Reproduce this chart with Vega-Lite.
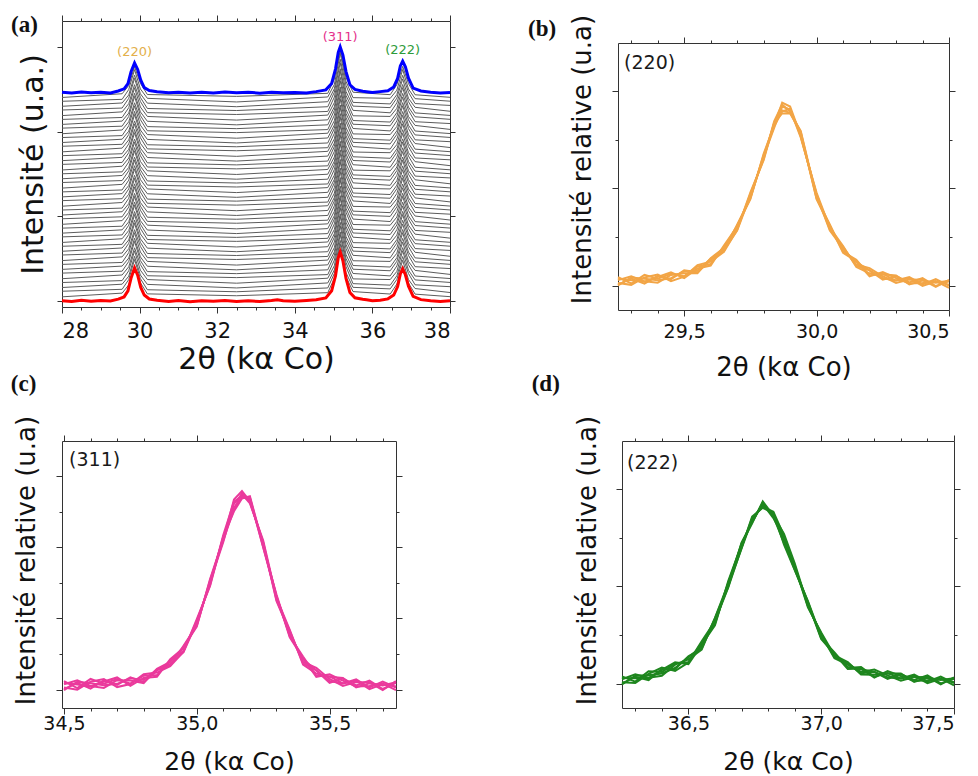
{
"$schema":"https://vega.github.io/schema/vega-lite/v6.json",
"background":"white",
"padding":{"left":10,"top":13,"right":0,"bottom":0},
"datasets":{
"a":[
{"s":1,"x":28,"y":0.049},{"s":1,"x":29.55,"y":0.093},{"s":1,"x":29.72,"y":0.19},{"s":1,"x":29.87,"y":0.414},{"s":1,"x":30.02,"y":0.216},{"s":1,"x":30.2,"y":0.084},{"s":1,"x":32.5,"y":0.062},{"s":1,"x":34.85,"y":0.098},{"s":1,"x":35.02,"y":0.269},{"s":1,"x":35.17,"y":0.602},{"s":1,"x":35.32,"y":0.287},{"s":1,"x":35.5,"y":0.111},{"s":1,"x":36.46,"y":0.082},{"s":1,"x":36.63,"y":0.2},{"s":1,"x":36.78,"y":0.416},{"s":1,"x":36.93,"y":0.213},{"s":1,"x":37.1,"y":0.081},{"s":1,"x":38,"y":0.051},
{"s":2,"x":28,"y":0.115},{"s":2,"x":29.55,"y":0.138},{"s":2,"x":29.72,"y":0.253},{"s":2,"x":29.87,"y":0.489},{"s":2,"x":30.02,"y":0.264},{"s":2,"x":30.2,"y":0.133},{"s":2,"x":32.5,"y":0.109},{"s":2,"x":34.85,"y":0.154},{"s":2,"x":35.02,"y":0.326},{"s":2,"x":35.17,"y":0.672},{"s":2,"x":35.32,"y":0.334},{"s":2,"x":35.5,"y":0.161},{"s":2,"x":36.46,"y":0.143},{"s":2,"x":36.63,"y":0.255},{"s":2,"x":36.78,"y":0.481},{"s":2,"x":36.93,"y":0.253},{"s":2,"x":37.1,"y":0.147},{"s":2,"x":38,"y":0.1},
{"s":3,"x":28,"y":0.159},{"s":3,"x":29.55,"y":0.198},{"s":3,"x":29.72,"y":0.293},{"s":3,"x":29.87,"y":0.527},{"s":3,"x":30.02,"y":0.307},{"s":3,"x":30.2,"y":0.196},{"s":3,"x":32.5,"y":0.154},{"s":3,"x":34.85,"y":0.213},{"s":3,"x":35.02,"y":0.367},{"s":3,"x":35.17,"y":0.715},{"s":3,"x":35.32,"y":0.405},{"s":3,"x":35.5,"y":0.205},{"s":3,"x":36.46,"y":0.187},{"s":3,"x":36.63,"y":0.298},{"s":3,"x":36.78,"y":0.525},{"s":3,"x":36.93,"y":0.324},{"s":3,"x":37.1,"y":0.191},{"s":3,"x":38,"y":0.169},
{"s":4,"x":28,"y":0.218},{"s":4,"x":29.55,"y":0.241},{"s":4,"x":29.72,"y":0.357},{"s":4,"x":29.87,"y":0.592},{"s":4,"x":30.02,"y":0.364},{"s":4,"x":30.2,"y":0.253},{"s":4,"x":32.5,"y":0.21},{"s":4,"x":34.85,"y":0.269},{"s":4,"x":35.02,"y":0.417},{"s":4,"x":35.17,"y":0.784},{"s":4,"x":35.32,"y":0.453},{"s":4,"x":35.5,"y":0.261},{"s":4,"x":36.46,"y":0.253},{"s":4,"x":36.63,"y":0.349},{"s":4,"x":36.78,"y":0.593},{"s":4,"x":36.93,"y":0.363},{"s":4,"x":37.1,"y":0.249},{"s":4,"x":38,"y":0.219},
{"s":5,"x":28,"y":0.263},{"s":5,"x":29.55,"y":0.307},{"s":5,"x":29.72,"y":0.404},{"s":5,"x":29.87,"y":0.628},{"s":5,"x":30.02,"y":0.43},{"s":5,"x":30.2,"y":0.298},{"s":5,"x":32.5,"y":0.276},{"s":5,"x":34.85,"y":0.312},{"s":5,"x":35.02,"y":0.483},{"s":5,"x":35.17,"y":0.816},{"s":5,"x":35.32,"y":0.501},{"s":5,"x":35.5,"y":0.325},{"s":5,"x":36.46,"y":0.296},{"s":5,"x":36.63,"y":0.414},{"s":5,"x":36.78,"y":0.63},{"s":5,"x":36.93,"y":0.427},{"s":5,"x":37.1,"y":0.295},{"s":5,"x":38,"y":0.265},
{"s":6,"x":28,"y":0.329},{"s":6,"x":29.55,"y":0.352},{"s":6,"x":29.72,"y":0.467},{"s":6,"x":29.87,"y":0.703},{"s":6,"x":30.02,"y":0.478},{"s":6,"x":30.2,"y":0.347},{"s":6,"x":32.5,"y":0.323},{"s":6,"x":34.85,"y":0.368},{"s":6,"x":35.02,"y":0.54},{"s":6,"x":35.17,"y":0.886},{"s":6,"x":35.32,"y":0.548},{"s":6,"x":35.5,"y":0.375},{"s":6,"x":36.46,"y":0.357},{"s":6,"x":36.63,"y":0.469},{"s":6,"x":36.78,"y":0.695},{"s":6,"x":36.93,"y":0.467},{"s":6,"x":37.1,"y":0.361},{"s":6,"x":38,"y":0.314},
{"s":7,"x":28,"y":0.373},{"s":7,"x":29.55,"y":0.412},{"s":7,"x":29.72,"y":0.507},{"s":7,"x":29.87,"y":0.741},{"s":7,"x":30.02,"y":0.521},{"s":7,"x":30.2,"y":0.41},{"s":7,"x":32.5,"y":0.368},{"s":7,"x":34.85,"y":0.427},{"s":7,"x":35.02,"y":0.581},{"s":7,"x":35.17,"y":0.929},{"s":7,"x":35.32,"y":0.619},{"s":7,"x":35.5,"y":0.419},{"s":7,"x":36.46,"y":0.401},{"s":7,"x":36.63,"y":0.512},{"s":7,"x":36.78,"y":0.739},{"s":7,"x":36.93,"y":0.538},{"s":7,"x":37.1,"y":0.405},{"s":7,"x":38,"y":0.383},
{"s":8,"x":28,"y":0.432},{"s":8,"x":29.55,"y":0.455},{"s":8,"x":29.72,"y":0.571},{"s":8,"x":29.87,"y":0.806},{"s":8,"x":30.02,"y":0.578},{"s":8,"x":30.2,"y":0.467},{"s":8,"x":32.5,"y":0.424},{"s":8,"x":34.85,"y":0.483},{"s":8,"x":35.02,"y":0.631},{"s":8,"x":35.17,"y":0.998},{"s":8,"x":35.32,"y":0.667},{"s":8,"x":35.5,"y":0.475},{"s":8,"x":36.46,"y":0.467},{"s":8,"x":36.63,"y":0.563},{"s":8,"x":36.78,"y":0.807},{"s":8,"x":36.93,"y":0.577},{"s":8,"x":37.1,"y":0.463},{"s":8,"x":38,"y":0.433},
{"s":9,"x":28,"y":0.477},{"s":9,"x":29.55,"y":0.521},{"s":9,"x":29.72,"y":0.618},{"s":9,"x":29.87,"y":0.842},{"s":9,"x":30.02,"y":0.644},{"s":9,"x":30.2,"y":0.512},{"s":9,"x":32.5,"y":0.49},{"s":9,"x":34.85,"y":0.526},{"s":9,"x":35.02,"y":0.697},{"s":9,"x":35.17,"y":1.03},{"s":9,"x":35.32,"y":0.715},{"s":9,"x":35.5,"y":0.539},{"s":9,"x":36.46,"y":0.51},{"s":9,"x":36.63,"y":0.628},{"s":9,"x":36.78,"y":0.844},{"s":9,"x":36.93,"y":0.641},{"s":9,"x":37.1,"y":0.509},{"s":9,"x":38,"y":0.479},
{"s":10,"x":28,"y":0.543},{"s":10,"x":29.55,"y":0.566},{"s":10,"x":29.72,"y":0.681},{"s":10,"x":29.87,"y":0.917},{"s":10,"x":30.02,"y":0.692},{"s":10,"x":30.2,"y":0.561},{"s":10,"x":32.5,"y":0.537},{"s":10,"x":34.85,"y":0.582},{"s":10,"x":35.02,"y":0.754},{"s":10,"x":35.17,"y":1.1},{"s":10,"x":35.32,"y":0.762},{"s":10,"x":35.5,"y":0.589},{"s":10,"x":36.46,"y":0.571},{"s":10,"x":36.63,"y":0.683},{"s":10,"x":36.78,"y":0.909},{"s":10,"x":36.93,"y":0.681},{"s":10,"x":37.1,"y":0.575},{"s":10,"x":38,"y":0.528},
{"s":11,"x":28,"y":0.587},{"s":11,"x":29.55,"y":0.626},{"s":11,"x":29.72,"y":0.721},{"s":11,"x":29.87,"y":0.955},{"s":11,"x":30.02,"y":0.735},{"s":11,"x":30.2,"y":0.624},{"s":11,"x":32.5,"y":0.582},{"s":11,"x":34.85,"y":0.641},{"s":11,"x":35.02,"y":0.795},{"s":11,"x":35.17,"y":1.143},{"s":11,"x":35.32,"y":0.833},{"s":11,"x":35.5,"y":0.633},{"s":11,"x":36.46,"y":0.615},{"s":11,"x":36.63,"y":0.726},{"s":11,"x":36.78,"y":0.953},{"s":11,"x":36.93,"y":0.752},{"s":11,"x":37.1,"y":0.619},{"s":11,"x":38,"y":0.597},
{"s":12,"x":28,"y":0.646},{"s":12,"x":29.55,"y":0.669},{"s":12,"x":29.72,"y":0.785},{"s":12,"x":29.87,"y":1.02},{"s":12,"x":30.02,"y":0.792},{"s":12,"x":30.2,"y":0.681},{"s":12,"x":32.5,"y":0.638},{"s":12,"x":34.85,"y":0.697},{"s":12,"x":35.02,"y":0.845},{"s":12,"x":35.17,"y":1.212},{"s":12,"x":35.32,"y":0.881},{"s":12,"x":35.5,"y":0.689},{"s":12,"x":36.46,"y":0.681},{"s":12,"x":36.63,"y":0.777},{"s":12,"x":36.78,"y":1.021},{"s":12,"x":36.93,"y":0.791},{"s":12,"x":37.1,"y":0.677},{"s":12,"x":38,"y":0.647},
{"s":13,"x":28,"y":0.691},{"s":13,"x":29.55,"y":0.735},{"s":13,"x":29.72,"y":0.832},{"s":13,"x":29.87,"y":1.056},{"s":13,"x":30.02,"y":0.858},{"s":13,"x":30.2,"y":0.726},{"s":13,"x":32.5,"y":0.704},{"s":13,"x":34.85,"y":0.74},{"s":13,"x":35.02,"y":0.911},{"s":13,"x":35.17,"y":1.244},{"s":13,"x":35.32,"y":0.929},{"s":13,"x":35.5,"y":0.753},{"s":13,"x":36.46,"y":0.724},{"s":13,"x":36.63,"y":0.842},{"s":13,"x":36.78,"y":1.058},{"s":13,"x":36.93,"y":0.855},{"s":13,"x":37.1,"y":0.723},{"s":13,"x":38,"y":0.693},
{"s":14,"x":28,"y":0.757},{"s":14,"x":29.55,"y":0.78},{"s":14,"x":29.72,"y":0.895},{"s":14,"x":29.87,"y":1.131},{"s":14,"x":30.02,"y":0.906},{"s":14,"x":30.2,"y":0.775},{"s":14,"x":32.5,"y":0.751},{"s":14,"x":34.85,"y":0.796},{"s":14,"x":35.02,"y":0.968},{"s":14,"x":35.17,"y":1.314},{"s":14,"x":35.32,"y":0.976},{"s":14,"x":35.5,"y":0.803},{"s":14,"x":36.46,"y":0.785},{"s":14,"x":36.63,"y":0.897},{"s":14,"x":36.78,"y":1.123},{"s":14,"x":36.93,"y":0.895},{"s":14,"x":37.1,"y":0.789},{"s":14,"x":38,"y":0.742},
{"s":15,"x":28,"y":0.801},{"s":15,"x":29.55,"y":0.84},{"s":15,"x":29.72,"y":0.935},{"s":15,"x":29.87,"y":1.169},{"s":15,"x":30.02,"y":0.949},{"s":15,"x":30.2,"y":0.838},{"s":15,"x":32.5,"y":0.796},{"s":15,"x":34.85,"y":0.855},{"s":15,"x":35.02,"y":1.009},{"s":15,"x":35.17,"y":1.357},{"s":15,"x":35.32,"y":1.047},{"s":15,"x":35.5,"y":0.847},{"s":15,"x":36.46,"y":0.829},{"s":15,"x":36.63,"y":0.94},{"s":15,"x":36.78,"y":1.167},{"s":15,"x":36.93,"y":0.966},{"s":15,"x":37.1,"y":0.833},{"s":15,"x":38,"y":0.811},
{"s":16,"x":28,"y":0.86},{"s":16,"x":29.55,"y":0.883},{"s":16,"x":29.72,"y":0.999},{"s":16,"x":29.87,"y":1.234},{"s":16,"x":30.02,"y":1.006},{"s":16,"x":30.2,"y":0.895},{"s":16,"x":32.5,"y":0.852},{"s":16,"x":34.85,"y":0.911},{"s":16,"x":35.02,"y":1.059},{"s":16,"x":35.17,"y":1.426},{"s":16,"x":35.32,"y":1.095},{"s":16,"x":35.5,"y":0.903},{"s":16,"x":36.46,"y":0.895},{"s":16,"x":36.63,"y":0.991},{"s":16,"x":36.78,"y":1.235},{"s":16,"x":36.93,"y":1.005},{"s":16,"x":37.1,"y":0.891},{"s":16,"x":38,"y":0.861},
{"s":17,"x":28,"y":0.905},{"s":17,"x":29.55,"y":0.949},{"s":17,"x":29.72,"y":1.046},{"s":17,"x":29.87,"y":1.27},{"s":17,"x":30.02,"y":1.072},{"s":17,"x":30.2,"y":0.94},{"s":17,"x":32.5,"y":0.918},{"s":17,"x":34.85,"y":0.954},{"s":17,"x":35.02,"y":1.125},{"s":17,"x":35.17,"y":1.458},{"s":17,"x":35.32,"y":1.143},{"s":17,"x":35.5,"y":0.967},{"s":17,"x":36.46,"y":0.938},{"s":17,"x":36.63,"y":1.056},{"s":17,"x":36.78,"y":1.272},{"s":17,"x":36.93,"y":1.069},{"s":17,"x":37.1,"y":0.937},{"s":17,"x":38,"y":0.907},
{"s":18,"x":28,"y":0.971},{"s":18,"x":29.55,"y":0.994},{"s":18,"x":29.72,"y":1.109},{"s":18,"x":29.87,"y":1.345},{"s":18,"x":30.02,"y":1.12},{"s":18,"x":30.2,"y":0.989},{"s":18,"x":32.5,"y":0.965},{"s":18,"x":34.85,"y":1.01},{"s":18,"x":35.02,"y":1.182},{"s":18,"x":35.17,"y":1.528},{"s":18,"x":35.32,"y":1.19},{"s":18,"x":35.5,"y":1.017},{"s":18,"x":36.46,"y":0.999},{"s":18,"x":36.63,"y":1.111},{"s":18,"x":36.78,"y":1.337},{"s":18,"x":36.93,"y":1.109},{"s":18,"x":37.1,"y":1.003},{"s":18,"x":38,"y":0.956},
{"s":19,"x":28,"y":1.015},{"s":19,"x":29.55,"y":1.054},{"s":19,"x":29.72,"y":1.149},{"s":19,"x":29.87,"y":1.383},{"s":19,"x":30.02,"y":1.163},{"s":19,"x":30.2,"y":1.052},{"s":19,"x":32.5,"y":1.01},{"s":19,"x":34.85,"y":1.069},{"s":19,"x":35.02,"y":1.223},{"s":19,"x":35.17,"y":1.571},{"s":19,"x":35.32,"y":1.261},{"s":19,"x":35.5,"y":1.061},{"s":19,"x":36.46,"y":1.043},{"s":19,"x":36.63,"y":1.154},{"s":19,"x":36.78,"y":1.381},{"s":19,"x":36.93,"y":1.18},{"s":19,"x":37.1,"y":1.047},{"s":19,"x":38,"y":1.025},
{"s":20,"x":28,"y":1.074},{"s":20,"x":29.55,"y":1.097},{"s":20,"x":29.72,"y":1.213},{"s":20,"x":29.87,"y":1.448},{"s":20,"x":30.02,"y":1.22},{"s":20,"x":30.2,"y":1.109},{"s":20,"x":32.5,"y":1.066},{"s":20,"x":34.85,"y":1.125},{"s":20,"x":35.02,"y":1.273},{"s":20,"x":35.17,"y":1.64},{"s":20,"x":35.32,"y":1.309},{"s":20,"x":35.5,"y":1.117},{"s":20,"x":36.46,"y":1.109},{"s":20,"x":36.63,"y":1.205},{"s":20,"x":36.78,"y":1.449},{"s":20,"x":36.93,"y":1.219},{"s":20,"x":37.1,"y":1.105},{"s":20,"x":38,"y":1.075},
{"s":21,"x":28,"y":1.119},{"s":21,"x":29.55,"y":1.163},{"s":21,"x":29.72,"y":1.26},{"s":21,"x":29.87,"y":1.484},{"s":21,"x":30.02,"y":1.286},{"s":21,"x":30.2,"y":1.154},{"s":21,"x":32.5,"y":1.132},{"s":21,"x":34.85,"y":1.168},{"s":21,"x":35.02,"y":1.339},{"s":21,"x":35.17,"y":1.672},{"s":21,"x":35.32,"y":1.357},{"s":21,"x":35.5,"y":1.181},{"s":21,"x":36.46,"y":1.152},{"s":21,"x":36.63,"y":1.27},{"s":21,"x":36.78,"y":1.486},{"s":21,"x":36.93,"y":1.283},{"s":21,"x":37.1,"y":1.151},{"s":21,"x":38,"y":1.121},
{"s":22,"x":28,"y":1.185},{"s":22,"x":29.55,"y":1.208},{"s":22,"x":29.72,"y":1.323},{"s":22,"x":29.87,"y":1.559},{"s":22,"x":30.02,"y":1.334},{"s":22,"x":30.2,"y":1.203},{"s":22,"x":32.5,"y":1.179},{"s":22,"x":34.85,"y":1.224},{"s":22,"x":35.02,"y":1.396},{"s":22,"x":35.17,"y":1.742},{"s":22,"x":35.32,"y":1.404},{"s":22,"x":35.5,"y":1.231},{"s":22,"x":36.46,"y":1.213},{"s":22,"x":36.63,"y":1.325},{"s":22,"x":36.78,"y":1.551},{"s":22,"x":36.93,"y":1.323},{"s":22,"x":37.1,"y":1.217},{"s":22,"x":38,"y":1.17},
{"s":23,"x":28,"y":1.229},{"s":23,"x":29.55,"y":1.268},{"s":23,"x":29.72,"y":1.363},{"s":23,"x":29.87,"y":1.597},{"s":23,"x":30.02,"y":1.377},{"s":23,"x":30.2,"y":1.266},{"s":23,"x":32.5,"y":1.224},{"s":23,"x":34.85,"y":1.283},{"s":23,"x":35.02,"y":1.437},{"s":23,"x":35.17,"y":1.785},{"s":23,"x":35.32,"y":1.475},{"s":23,"x":35.5,"y":1.275},{"s":23,"x":36.46,"y":1.257},{"s":23,"x":36.63,"y":1.368},{"s":23,"x":36.78,"y":1.595},{"s":23,"x":36.93,"y":1.394},{"s":23,"x":37.1,"y":1.261},{"s":23,"x":38,"y":1.239},
{"s":24,"x":28,"y":1.288},{"s":24,"x":29.55,"y":1.311},{"s":24,"x":29.72,"y":1.427},{"s":24,"x":29.87,"y":1.662},{"s":24,"x":30.02,"y":1.434},{"s":24,"x":30.2,"y":1.323},{"s":24,"x":32.5,"y":1.28},{"s":24,"x":34.85,"y":1.339},{"s":24,"x":35.02,"y":1.487},{"s":24,"x":35.17,"y":1.854},{"s":24,"x":35.32,"y":1.523},{"s":24,"x":35.5,"y":1.331},{"s":24,"x":36.46,"y":1.323},{"s":24,"x":36.63,"y":1.419},{"s":24,"x":36.78,"y":1.663},{"s":24,"x":36.93,"y":1.433},{"s":24,"x":37.1,"y":1.319},{"s":24,"x":38,"y":1.289},
{"s":25,"x":28,"y":1.333},{"s":25,"x":29.55,"y":1.377},{"s":25,"x":29.72,"y":1.474},{"s":25,"x":29.87,"y":1.698},{"s":25,"x":30.02,"y":1.5},{"s":25,"x":30.2,"y":1.368},{"s":25,"x":32.5,"y":1.346},{"s":25,"x":34.85,"y":1.382},{"s":25,"x":35.02,"y":1.553},{"s":25,"x":35.17,"y":1.886},{"s":25,"x":35.32,"y":1.571},{"s":25,"x":35.5,"y":1.395},{"s":25,"x":36.46,"y":1.366},{"s":25,"x":36.63,"y":1.484},{"s":25,"x":36.78,"y":1.7},{"s":25,"x":36.93,"y":1.497},{"s":25,"x":37.1,"y":1.365},{"s":25,"x":38,"y":1.335},
{"s":26,"x":28,"y":1.399},{"s":26,"x":29.55,"y":1.422},{"s":26,"x":29.72,"y":1.537},{"s":26,"x":29.87,"y":1.773},{"s":26,"x":30.02,"y":1.548},{"s":26,"x":30.2,"y":1.417},{"s":26,"x":32.5,"y":1.393},{"s":26,"x":34.85,"y":1.438},{"s":26,"x":35.02,"y":1.61},{"s":26,"x":35.17,"y":1.956},{"s":26,"x":35.32,"y":1.618},{"s":26,"x":35.5,"y":1.445},{"s":26,"x":36.46,"y":1.427},{"s":26,"x":36.63,"y":1.539},{"s":26,"x":36.78,"y":1.765},{"s":26,"x":36.93,"y":1.537},{"s":26,"x":37.1,"y":1.431},{"s":26,"x":38,"y":1.384},
{"s":27,"x":28,"y":1.443},{"s":27,"x":29.55,"y":1.482},{"s":27,"x":29.72,"y":1.577},{"s":27,"x":29.87,"y":1.811},{"s":27,"x":30.02,"y":1.591},{"s":27,"x":30.2,"y":1.48},{"s":27,"x":32.5,"y":1.438},{"s":27,"x":34.85,"y":1.497},{"s":27,"x":35.02,"y":1.651},{"s":27,"x":35.17,"y":1.999},{"s":27,"x":35.32,"y":1.689},{"s":27,"x":35.5,"y":1.489},{"s":27,"x":36.46,"y":1.471},{"s":27,"x":36.63,"y":1.582},{"s":27,"x":36.78,"y":1.809},{"s":27,"x":36.93,"y":1.608},{"s":27,"x":37.1,"y":1.475},{"s":27,"x":38,"y":1.453},
{"s":28,"x":28,"y":1.502},{"s":28,"x":29.55,"y":1.525},{"s":28,"x":29.72,"y":1.641},{"s":28,"x":29.87,"y":1.876},{"s":28,"x":30.02,"y":1.648},{"s":28,"x":30.2,"y":1.537},{"s":28,"x":32.5,"y":1.494},{"s":28,"x":34.85,"y":1.553},{"s":28,"x":35.02,"y":1.701},{"s":28,"x":35.17,"y":2.068},{"s":28,"x":35.32,"y":1.737},{"s":28,"x":35.5,"y":1.545},{"s":28,"x":36.46,"y":1.537},{"s":28,"x":36.63,"y":1.633},{"s":28,"x":36.78,"y":1.877},{"s":28,"x":36.93,"y":1.647},{"s":28,"x":37.1,"y":1.533},{"s":28,"x":38,"y":1.503},
{"s":29,"x":28,"y":1.547},{"s":29,"x":29.55,"y":1.591},{"s":29,"x":29.72,"y":1.688},{"s":29,"x":29.87,"y":1.912},{"s":29,"x":30.02,"y":1.714},{"s":29,"x":30.2,"y":1.582},{"s":29,"x":32.5,"y":1.56},{"s":29,"x":34.85,"y":1.596},{"s":29,"x":35.02,"y":1.767},{"s":29,"x":35.17,"y":2.1},{"s":29,"x":35.32,"y":1.785},{"s":29,"x":35.5,"y":1.609},{"s":29,"x":36.46,"y":1.58},{"s":29,"x":36.63,"y":1.698},{"s":29,"x":36.78,"y":1.914},{"s":29,"x":36.93,"y":1.711},{"s":29,"x":37.1,"y":1.579},{"s":29,"x":38,"y":1.549},
{"s":30,"x":28,"y":1.613},{"s":30,"x":29.55,"y":1.636},{"s":30,"x":29.72,"y":1.751},{"s":30,"x":29.87,"y":1.987},{"s":30,"x":30.02,"y":1.762},{"s":30,"x":30.2,"y":1.631},{"s":30,"x":32.5,"y":1.607},{"s":30,"x":34.85,"y":1.652},{"s":30,"x":35.02,"y":1.824},{"s":30,"x":35.17,"y":2.17},{"s":30,"x":35.32,"y":1.832},{"s":30,"x":35.5,"y":1.659},{"s":30,"x":36.46,"y":1.641},{"s":30,"x":36.63,"y":1.753},{"s":30,"x":36.78,"y":1.979},{"s":30,"x":36.93,"y":1.751},{"s":30,"x":37.1,"y":1.645},{"s":30,"x":38,"y":1.598},
{"s":31,"x":28,"y":1.657},{"s":31,"x":29.55,"y":1.696},{"s":31,"x":29.72,"y":1.791},{"s":31,"x":29.87,"y":2.025},{"s":31,"x":30.02,"y":1.805},{"s":31,"x":30.2,"y":1.694},{"s":31,"x":32.5,"y":1.652},{"s":31,"x":34.85,"y":1.711},{"s":31,"x":35.02,"y":1.865},{"s":31,"x":35.17,"y":2.213},{"s":31,"x":35.32,"y":1.903},{"s":31,"x":35.5,"y":1.703},{"s":31,"x":36.46,"y":1.685},{"s":31,"x":36.63,"y":1.796},{"s":31,"x":36.78,"y":2.023},{"s":31,"x":36.93,"y":1.822},{"s":31,"x":37.1,"y":1.689},{"s":31,"x":38,"y":1.667},
{"s":32,"x":28,"y":1.716},{"s":32,"x":29.55,"y":1.739},{"s":32,"x":29.72,"y":1.855},{"s":32,"x":29.87,"y":2.09},{"s":32,"x":30.02,"y":1.862},{"s":32,"x":30.2,"y":1.751},{"s":32,"x":32.5,"y":1.708},{"s":32,"x":34.85,"y":1.767},{"s":32,"x":35.02,"y":1.915},{"s":32,"x":35.17,"y":2.282},{"s":32,"x":35.32,"y":1.951},{"s":32,"x":35.5,"y":1.759},{"s":32,"x":36.46,"y":1.751},{"s":32,"x":36.63,"y":1.847},{"s":32,"x":36.78,"y":2.091},{"s":32,"x":36.93,"y":1.861},{"s":32,"x":37.1,"y":1.747},{"s":32,"x":38,"y":1.717},
{"s":33,"x":28,"y":1.761},{"s":33,"x":29.55,"y":1.805},{"s":33,"x":29.72,"y":1.902},{"s":33,"x":29.87,"y":2.126},{"s":33,"x":30.02,"y":1.928},{"s":33,"x":30.2,"y":1.796},{"s":33,"x":32.5,"y":1.774},{"s":33,"x":34.85,"y":1.81},{"s":33,"x":35.02,"y":1.981},{"s":33,"x":35.17,"y":2.314},{"s":33,"x":35.32,"y":1.999},{"s":33,"x":35.5,"y":1.823},{"s":33,"x":36.46,"y":1.794},{"s":33,"x":36.63,"y":1.912},{"s":33,"x":36.78,"y":2.128},{"s":33,"x":36.93,"y":1.925},{"s":33,"x":37.1,"y":1.793},{"s":33,"x":38,"y":1.763},
{"s":34,"x":28,"y":1.827},{"s":34,"x":29.55,"y":1.85},{"s":34,"x":29.72,"y":1.965},{"s":34,"x":29.87,"y":2.201},{"s":34,"x":30.02,"y":1.976},{"s":34,"x":30.2,"y":1.845},{"s":34,"x":32.5,"y":1.821},{"s":34,"x":34.85,"y":1.866},{"s":34,"x":35.02,"y":2.038},{"s":34,"x":35.17,"y":2.384},{"s":34,"x":35.32,"y":2.046},{"s":34,"x":35.5,"y":1.873},{"s":34,"x":36.46,"y":1.855},{"s":34,"x":36.63,"y":1.967},{"s":34,"x":36.78,"y":2.193},{"s":34,"x":36.93,"y":1.965},{"s":34,"x":37.1,"y":1.859},{"s":34,"x":38,"y":1.812},
{"s":35,"x":28,"y":1.871},{"s":35,"x":29.55,"y":1.91},{"s":35,"x":29.72,"y":2.005},{"s":35,"x":29.87,"y":2.239},{"s":35,"x":30.02,"y":2.019},{"s":35,"x":30.2,"y":1.908},{"s":35,"x":32.5,"y":1.866},{"s":35,"x":34.85,"y":1.925},{"s":35,"x":35.02,"y":2.079},{"s":35,"x":35.17,"y":2.427},{"s":35,"x":35.32,"y":2.117},{"s":35,"x":35.5,"y":1.917},{"s":35,"x":36.46,"y":1.899},{"s":35,"x":36.63,"y":2.01},{"s":35,"x":36.78,"y":2.237},{"s":35,"x":36.93,"y":2.036},{"s":35,"x":37.1,"y":1.903},{"s":35,"x":38,"y":1.881},
{"s":36,"x":28,"y":1.93},{"s":36,"x":29.55,"y":1.953},{"s":36,"x":29.72,"y":2.069},{"s":36,"x":29.87,"y":2.304},{"s":36,"x":30.02,"y":2.076},{"s":36,"x":30.2,"y":1.965},{"s":36,"x":32.5,"y":1.922},{"s":36,"x":34.85,"y":1.981},{"s":36,"x":35.02,"y":2.129},{"s":36,"x":35.17,"y":2.496},{"s":36,"x":35.32,"y":2.165},{"s":36,"x":35.5,"y":1.973},{"s":36,"x":36.46,"y":1.965},{"s":36,"x":36.63,"y":2.061},{"s":36,"x":36.78,"y":2.305},{"s":36,"x":36.93,"y":2.075},{"s":36,"x":37.1,"y":1.961},{"s":36,"x":38,"y":1.931},
{"s":37,"x":28,"y":1.975},{"s":37,"x":29.55,"y":2.019},{"s":37,"x":29.72,"y":2.116},{"s":37,"x":29.87,"y":2.34},{"s":37,"x":30.02,"y":2.142},{"s":37,"x":30.2,"y":2.01},{"s":37,"x":32.5,"y":1.988},{"s":37,"x":34.85,"y":2.024},{"s":37,"x":35.02,"y":2.195},{"s":37,"x":35.17,"y":2.528},{"s":37,"x":35.32,"y":2.213},{"s":37,"x":35.5,"y":2.037},{"s":37,"x":36.46,"y":2.008},{"s":37,"x":36.63,"y":2.126},{"s":37,"x":36.78,"y":2.342},{"s":37,"x":36.93,"y":2.139},{"s":37,"x":37.1,"y":2.007},{"s":37,"x":38,"y":1.977},
{"s":38,"x":28,"y":2.041},{"s":38,"x":29.55,"y":2.064},{"s":38,"x":29.72,"y":2.179},{"s":38,"x":29.87,"y":2.415},{"s":38,"x":30.02,"y":2.19},{"s":38,"x":30.2,"y":2.059},{"s":38,"x":32.5,"y":2.035},{"s":38,"x":34.85,"y":2.08},{"s":38,"x":35.02,"y":2.252},{"s":38,"x":35.17,"y":2.598},{"s":38,"x":35.32,"y":2.26},{"s":38,"x":35.5,"y":2.087},{"s":38,"x":36.46,"y":2.069},{"s":38,"x":36.63,"y":2.181},{"s":38,"x":36.78,"y":2.407},{"s":38,"x":36.93,"y":2.179},{"s":38,"x":37.1,"y":2.073},{"s":38,"x":38,"y":2.026},
{"s":39,"x":28,"y":2.085},{"s":39,"x":29.55,"y":2.124},{"s":39,"x":29.72,"y":2.219},{"s":39,"x":29.87,"y":2.453},{"s":39,"x":30.02,"y":2.233},{"s":39,"x":30.2,"y":2.122},{"s":39,"x":32.5,"y":2.08},{"s":39,"x":34.85,"y":2.139},{"s":39,"x":35.02,"y":2.293},{"s":39,"x":35.17,"y":2.641},{"s":39,"x":35.32,"y":2.331},{"s":39,"x":35.5,"y":2.131},{"s":39,"x":36.46,"y":2.113},{"s":39,"x":36.63,"y":2.224},{"s":39,"x":36.78,"y":2.451},{"s":39,"x":36.93,"y":2.25},{"s":39,"x":37.1,"y":2.117},{"s":39,"x":38,"y":2.095},
{"s":40,"x":28,"y":2.144},{"s":40,"x":29.55,"y":2.167},{"s":40,"x":29.72,"y":2.283},{"s":40,"x":29.87,"y":2.518},{"s":40,"x":30.02,"y":2.29},{"s":40,"x":30.2,"y":2.179},{"s":40,"x":32.5,"y":2.136},{"s":40,"x":34.85,"y":2.195},{"s":40,"x":35.02,"y":2.343},{"s":40,"x":35.17,"y":2.71},{"s":40,"x":35.32,"y":2.379},{"s":40,"x":35.5,"y":2.187},{"s":40,"x":36.46,"y":2.179},{"s":40,"x":36.63,"y":2.275},{"s":40,"x":36.78,"y":2.519},{"s":40,"x":36.93,"y":2.289},{"s":40,"x":37.1,"y":2.175},{"s":40,"x":38,"y":2.145},
{"s":41,"x":28,"y":2.189},{"s":41,"x":29.55,"y":2.233},{"s":41,"x":29.72,"y":2.33},{"s":41,"x":29.87,"y":2.554},{"s":41,"x":30.02,"y":2.356},{"s":41,"x":30.2,"y":2.224},{"s":41,"x":32.5,"y":2.202},{"s":41,"x":34.85,"y":2.238},{"s":41,"x":35.02,"y":2.409},{"s":41,"x":35.17,"y":2.742},{"s":41,"x":35.32,"y":2.427},{"s":41,"x":35.5,"y":2.251},{"s":41,"x":36.46,"y":2.222},{"s":41,"x":36.63,"y":2.34},{"s":41,"x":36.78,"y":2.556},{"s":41,"x":36.93,"y":2.353},{"s":41,"x":37.1,"y":2.221},{"s":41,"x":38,"y":2.191},
{"s":42,"x":28,"y":2.255},{"s":42,"x":29.55,"y":2.278},{"s":42,"x":29.72,"y":2.393},{"s":42,"x":29.87,"y":2.629},{"s":42,"x":30.02,"y":2.404},{"s":42,"x":30.2,"y":2.273},{"s":42,"x":32.5,"y":2.249},{"s":42,"x":34.85,"y":2.294},{"s":42,"x":35.02,"y":2.466},{"s":42,"x":35.17,"y":2.812},{"s":42,"x":35.32,"y":2.474},{"s":42,"x":35.5,"y":2.301},{"s":42,"x":36.46,"y":2.283},{"s":42,"x":36.63,"y":2.395},{"s":42,"x":36.78,"y":2.621},{"s":42,"x":36.93,"y":2.393},{"s":42,"x":37.1,"y":2.287},{"s":42,"x":38,"y":2.24},
{"s":43,"x":28,"y":2.299},{"s":43,"x":29.55,"y":2.338},{"s":43,"x":29.72,"y":2.433},{"s":43,"x":29.87,"y":2.667},{"s":43,"x":30.02,"y":2.447},{"s":43,"x":30.2,"y":2.336},{"s":43,"x":32.5,"y":2.294},{"s":43,"x":34.85,"y":2.353},{"s":43,"x":35.02,"y":2.507},{"s":43,"x":35.17,"y":2.855},{"s":43,"x":35.32,"y":2.545},{"s":43,"x":35.5,"y":2.345},{"s":43,"x":36.46,"y":2.327},{"s":43,"x":36.63,"y":2.438},{"s":43,"x":36.78,"y":2.665},{"s":43,"x":36.93,"y":2.464},{"s":43,"x":37.1,"y":2.331},{"s":43,"x":38,"y":2.309},
{"s":44,"x":28,"y":2.358},{"s":44,"x":29.55,"y":2.381},{"s":44,"x":29.72,"y":2.497},{"s":44,"x":29.87,"y":2.732},{"s":44,"x":30.02,"y":2.504},{"s":44,"x":30.2,"y":2.393},{"s":44,"x":32.5,"y":2.35},{"s":44,"x":34.85,"y":2.409},{"s":44,"x":35.02,"y":2.557},{"s":44,"x":35.17,"y":2.924},{"s":44,"x":35.32,"y":2.593},{"s":44,"x":35.5,"y":2.401},{"s":44,"x":36.46,"y":2.393},{"s":44,"x":36.63,"y":2.489},{"s":44,"x":36.78,"y":2.733},{"s":44,"x":36.93,"y":2.503},{"s":44,"x":37.1,"y":2.389},{"s":44,"x":38,"y":2.359},
{"s":45,"x":28,"y":2.403},{"s":45,"x":29.55,"y":2.447},{"s":45,"x":29.72,"y":2.544},{"s":45,"x":29.87,"y":2.768},{"s":45,"x":30.02,"y":2.57},{"s":45,"x":30.2,"y":2.438},{"s":45,"x":32.5,"y":2.416},{"s":45,"x":34.85,"y":2.452},{"s":45,"x":35.02,"y":2.623},{"s":45,"x":35.17,"y":2.956},{"s":45,"x":35.32,"y":2.641},{"s":45,"x":35.5,"y":2.465},{"s":45,"x":36.46,"y":2.436},{"s":45,"x":36.63,"y":2.554},{"s":45,"x":36.78,"y":2.77},{"s":45,"x":36.93,"y":2.567},{"s":45,"x":37.1,"y":2.435},{"s":45,"x":38,"y":2.405}
],
"ared":[
{"x":28,"y":0.004},{"x":28.25,"y":-0.006},{"x":28.5,"y":0.008},{"x":28.75,"y":-0.004},{"x":29,"y":0.006},{"x":29.25,"y":0},{"x":29.45,"y":0.022},{"x":29.6,"y":0.048},{"x":29.7,"y":0.12},{"x":29.78,"y":0.27},{"x":29.87,"y":0.39},{"x":29.95,"y":0.305},{"x":30.03,"y":0.16},{"x":30.12,"y":0.07},{"x":30.25,"y":0.024},{"x":30.45,"y":0.01},{"x":30.75,"y":-0.005},{"x":31,"y":0.006},{"x":31.3,"y":-0.008},{"x":31.6,"y":0.004},{"x":31.9,"y":-0.003},{"x":32.2,"y":0.007},{"x":32.5,"y":-0.006},{"x":32.8,"y":0.002},{"x":33.1,"y":-0.007},{"x":33.4,"y":0.005},{"x":33.55,"y":0.014},{"x":33.7,"y":0.003},{"x":34,"y":-0.004},{"x":34.3,"y":0.006},{"x":34.55,"y":0.014},{"x":34.8,"y":0.036},{"x":34.95,"y":0.12},{"x":35.05,"y":0.3},{"x":35.12,"y":0.51},{"x":35.17,"y":0.58},{"x":35.24,"y":0.475},{"x":35.32,"y":0.265},{"x":35.42,"y":0.1},{"x":35.55,"y":0.038},{"x":35.75,"y":0.02},{"x":35.85,"y":0.014},{"x":36,"y":0.004},{"x":36.2,"y":0.008},{"x":36.4,"y":0.025},{"x":36.55,"y":0.07},{"x":36.65,"y":0.17},{"x":36.72,"y":0.32},{"x":36.78,"y":0.38},{"x":36.85,"y":0.31},{"x":36.93,"y":0.175},{"x":37.05,"y":0.055},{"x":37.25,"y":0.016},{"x":37.5,"y":0.002},{"x":37.75,"y":-0.005},{"x":38,"y":0.003}
],
"ablue":[
{"x":28,"y":2.465},{"x":28.25,"y":2.455},{"x":28.5,"y":2.468},{"x":28.75,"y":2.458},{"x":29,"y":2.466},{"x":29.25,"y":2.457},{"x":29.45,"y":2.48},{"x":29.6,"y":2.505},{"x":29.7,"y":2.566},{"x":29.78,"y":2.706},{"x":29.87,"y":2.811},{"x":29.95,"y":2.734},{"x":30.03,"y":2.608},{"x":30.12,"y":2.52},{"x":30.25,"y":2.486},{"x":30.45,"y":2.47},{"x":30.75,"y":2.458},{"x":31,"y":2.466},{"x":31.3,"y":2.455},{"x":31.6,"y":2.464},{"x":31.9,"y":2.456},{"x":32.2,"y":2.467},{"x":32.5,"y":2.458},{"x":32.8,"y":2.465},{"x":33.1,"y":2.454},{"x":33.4,"y":2.466},{"x":33.7,"y":2.459},{"x":34,"y":2.463},{"x":34.3,"y":2.456},{"x":34.55,"y":2.472},{"x":34.8,"y":2.493},{"x":34.95,"y":2.569},{"x":35.05,"y":2.742},{"x":35.12,"y":2.936},{"x":35.17,"y":3.001},{"x":35.24,"y":2.904},{"x":35.32,"y":2.709},{"x":35.42,"y":2.553},{"x":35.55,"y":2.499},{"x":35.75,"y":2.477},{"x":36,"y":2.462},{"x":36.2,"y":2.472},{"x":36.4,"y":2.483},{"x":36.55,"y":2.528},{"x":36.65,"y":2.628},{"x":36.72,"y":2.776},{"x":36.78,"y":2.831},{"x":36.85,"y":2.764},{"x":36.93,"y":2.631},{"x":37.05,"y":2.513},{"x":37.25,"y":2.48},{"x":37.5,"y":2.466},{"x":37.75,"y":2.457},{"x":38,"y":2.462}
],
"alab":[{"x":29.87,"y":2.94,"t":"(220)"},{"x":35.17,"y":3.12,"t":"(311)"},{"x":36.78,"y":2.96,"t":"(222)"}],
"b":[
{"s":1,"x":29.25,"y":0.045},{"s":1,"x":29.3,"y":0.013},{"s":1,"x":29.35,"y":0.057},{"s":1,"x":29.4,"y":0.037},{"s":1,"x":29.45,"y":0.063},{"s":1,"x":29.5,"y":0.05},{"s":1,"x":29.55,"y":0.1},{"s":1,"x":29.6,"y":0.113},{"s":1,"x":29.65,"y":0.2},{"s":1,"x":29.7,"y":0.292},{"s":1,"x":29.75,"y":0.472},{"s":1,"x":29.8,"y":0.65},{"s":1,"x":29.84,"y":0.845},{"s":1,"x":29.87,"y":0.93},{"s":1,"x":29.9,"y":0.895},{"s":1,"x":29.94,"y":0.79},{"s":1,"x":30,"y":0.448},{"s":1,"x":30.05,"y":0.315},{"s":1,"x":30.1,"y":0.175},{"s":1,"x":30.15,"y":0.135},{"s":1,"x":30.2,"y":0.055},{"s":1,"x":30.25,"y":0.062},{"s":1,"x":30.3,"y":0.028},{"s":1,"x":30.35,"y":0.046},{"s":1,"x":30.4,"y":0.008},{"s":1,"x":30.45,"y":0.035},{"s":1,"x":30.5,"y":0.002},
{"s":2,"x":29.25,"y":0.007},{"s":2,"x":29.3,"y":0.038},{"s":2,"x":29.35,"y":0.012},{"s":2,"x":29.4,"y":0.052},{"s":2,"x":29.45,"y":0.035},{"s":2,"x":29.5,"y":0.08},{"s":2,"x":29.55,"y":0.07},{"s":2,"x":29.6,"y":0.135},{"s":2,"x":29.65,"y":0.178},{"s":2,"x":29.7,"y":0.315},{"s":2,"x":29.75,"y":0.45},{"s":2,"x":29.8,"y":0.672},{"s":2,"x":29.84,"y":0.82},{"s":2,"x":29.87,"y":0.895},{"s":2,"x":29.9,"y":0.91},{"s":2,"x":29.94,"y":0.768},{"s":2,"x":30,"y":0.47},{"s":2,"x":30.05,"y":0.29},{"s":2,"x":30.1,"y":0.2},{"s":2,"x":30.15,"y":0.103},{"s":2,"x":30.2,"y":0.08},{"s":2,"x":30.25,"y":0.032},{"s":2,"x":30.3,"y":0.051},{"s":2,"x":30.35,"y":0.018},{"s":2,"x":30.4,"y":0.04},{"s":2,"x":30.45,"y":0},{"s":2,"x":30.5,"y":0.024},
{"s":3,"x":29.25,"y":0.03},{"s":3,"x":29.3,"y":0.05},{"s":3,"x":29.35,"y":0.024},{"s":3,"x":29.4,"y":0.017},{"s":3,"x":29.45,"y":0.057},{"s":3,"x":29.5,"y":0.065},{"s":3,"x":29.55,"y":0.065},{"s":3,"x":29.6,"y":0.143},{"s":3,"x":29.65,"y":0.195},{"s":3,"x":29.7,"y":0.31},{"s":3,"x":29.75,"y":0.445},{"s":3,"x":29.8,"y":0.678},{"s":3,"x":29.84,"y":0.825},{"s":3,"x":29.87,"y":0.94},{"s":3,"x":29.9,"y":0.92},{"s":3,"x":29.94,"y":0.772},{"s":3,"x":30,"y":0.465},{"s":3,"x":30.05,"y":0.285},{"s":3,"x":30.1,"y":0.193},{"s":3,"x":30.15,"y":0.11},{"s":3,"x":30.2,"y":0.092},{"s":3,"x":30.25,"y":0.05},{"s":3,"x":30.3,"y":0.016},{"s":3,"x":30.35,"y":0.033},{"s":3,"x":30.4,"y":0.032},{"s":3,"x":30.45,"y":-0.005},{"s":3,"x":30.5,"y":0.032},
{"s":4,"x":29.25,"y":0.015},{"s":4,"x":29.3,"y":0.006},{"s":4,"x":29.35,"y":0.044},{"s":4,"x":29.4,"y":0.059},{"s":4,"x":29.45,"y":0.025},{"s":4,"x":29.5,"y":0.048},{"s":4,"x":29.55,"y":0.107},{"s":4,"x":29.6,"y":0.125},{"s":4,"x":29.65,"y":0.175},{"s":4,"x":29.7,"y":0.288},{"s":4,"x":29.75,"y":0.48},{"s":4,"x":29.8,"y":0.645},{"s":4,"x":29.84,"y":0.838},{"s":4,"x":29.87,"y":0.885},{"s":4,"x":29.9,"y":0.885},{"s":4,"x":29.94,"y":0.795},{"s":4,"x":30,"y":0.455},{"s":4,"x":30.05,"y":0.308},{"s":4,"x":30.1,"y":0.17},{"s":4,"x":30.15,"y":0.127},{"s":4,"x":30.2,"y":0.05},{"s":4,"x":30.25,"y":0.072},{"s":4,"x":30.3,"y":0.041},{"s":4,"x":30.35,"y":0.013},{"s":4,"x":30.4,"y":0.015},{"s":4,"x":30.45,"y":0.025},{"s":4,"x":30.5,"y":-0.01},
{"s":5,"x":29.25,"y":0.037},{"s":5,"x":29.3,"y":0.03},{"s":5,"x":29.35,"y":0.022},{"s":5,"x":29.4,"y":0.047},{"s":5,"x":29.45,"y":0.07},{"s":5,"x":29.5,"y":0.04},{"s":5,"x":29.55,"y":0.09},{"s":5,"x":29.6,"y":0.105},{"s":5,"x":29.65,"y":0.208},{"s":5,"x":29.7,"y":0.305},{"s":5,"x":29.75,"y":0.455},{"s":5,"x":29.8,"y":0.665},{"s":5,"x":29.84,"y":0.812},{"s":5,"x":29.87,"y":0.92},{"s":5,"x":29.9,"y":0.905},{"s":5,"x":29.94,"y":0.762},{"s":5,"x":30,"y":0.478},{"s":5,"x":30.05,"y":0.3},{"s":5,"x":30.1,"y":0.205},{"s":5,"x":30.15,"y":0.097},{"s":5,"x":30.2,"y":0.065},{"s":5,"x":30.25,"y":0.06},{"s":5,"x":30.3,"y":0.054},{"s":5,"x":30.35,"y":0.008},{"s":5,"x":30.4,"y":0.028},{"s":5,"x":30.45,"y":0.017},{"s":5,"x":30.5,"y":0.027},
{"s":6,"x":29.25,"y":0.003},{"s":6,"x":29.3,"y":0.043},{"s":6,"x":29.35,"y":0.037},{"s":6,"x":29.4,"y":0.029},{"s":6,"x":29.45,"y":0.04},{"s":6,"x":29.5,"y":0.075},{"s":6,"x":29.55,"y":0.08},{"s":6,"x":29.6,"y":0.14},{"s":6,"x":29.65,"y":0.185},{"s":6,"x":29.7,"y":0.285},{"s":6,"x":29.75,"y":0.465},{"s":6,"x":29.8,"y":0.66},{"s":6,"x":29.84,"y":0.835},{"s":6,"x":29.87,"y":0.9},{"s":6,"x":29.9,"y":0.888},{"s":6,"x":29.94,"y":0.785},{"s":6,"x":30,"y":0.445},{"s":6,"x":30.05,"y":0.305},{"s":6,"x":30.1,"y":0.18},{"s":6,"x":30.15,"y":0.123},{"s":6,"x":30.2,"y":0.08},{"s":6,"x":30.25,"y":0.04},{"s":6,"x":30.3,"y":0.028},{"s":6,"x":30.35,"y":0.04},{"s":6,"x":30.4,"y":0},{"s":6,"x":30.45,"y":0.023},{"s":6,"x":30.5,"y":0.007}
],
"c":[
{"s":1,"x":34.5,"y":0.025},{"s":1,"x":34.55,"y":0.044},{"s":1,"x":34.6,"y":0.017},{"s":1,"x":34.65,"y":0.008},{"s":1,"x":34.7,"y":0.044},{"s":1,"x":34.75,"y":0.043},{"s":1,"x":34.8,"y":0.03},{"s":1,"x":34.85,"y":0.098},{"s":1,"x":34.9,"y":0.13},{"s":1,"x":34.95,"y":0.2},{"s":1,"x":35,"y":0.295},{"s":1,"x":35.05,"y":0.518},{"s":1,"x":35.1,"y":0.705},{"s":1,"x":35.14,"y":0.89},{"s":1,"x":35.17,"y":0.93},{"s":1,"x":35.2,"y":0.882},{"s":1,"x":35.25,"y":0.685},{"s":1,"x":35.3,"y":0.415},{"s":1,"x":35.35,"y":0.268},{"s":1,"x":35.4,"y":0.13},{"s":1,"x":35.45,"y":0.102},{"s":1,"x":35.5,"y":0.05},{"s":1,"x":35.55,"y":0.017},{"s":1,"x":35.6,"y":0.035},{"s":1,"x":35.65,"y":0.034},{"s":1,"x":35.7,"y":-0.002},{"s":1,"x":35.75,"y":0.04},
{"s":2,"x":34.5,"y":0.01},{"s":2,"x":34.55,"y":0},{"s":2,"x":34.6,"y":0.037},{"s":2,"x":34.65,"y":0.05},{"s":2,"x":34.7,"y":0.012},{"s":2,"x":34.75,"y":0.026},{"s":2,"x":34.8,"y":0.072},{"s":2,"x":34.85,"y":0.08},{"s":2,"x":34.9,"y":0.11},{"s":2,"x":34.95,"y":0.178},{"s":2,"x":35,"y":0.33},{"s":2,"x":35.05,"y":0.485},{"s":2,"x":35.1,"y":0.718},{"s":2,"x":35.14,"y":0.835},{"s":2,"x":35.17,"y":0.895},{"s":2,"x":35.2,"y":0.905},{"s":2,"x":35.25,"y":0.675},{"s":2,"x":35.3,"y":0.438},{"s":2,"x":35.35,"y":0.245},{"s":2,"x":35.4,"y":0.147},{"s":2,"x":35.45,"y":0.06},{"s":2,"x":35.5,"y":0.072},{"s":2,"x":35.55,"y":0.042},{"s":2,"x":35.6,"y":0.015},{"s":2,"x":35.65,"y":0.017},{"s":2,"x":35.7,"y":0.028},{"s":2,"x":35.75,"y":-0.002},
{"s":3,"x":34.5,"y":0.032},{"s":3,"x":34.55,"y":0.024},{"s":3,"x":34.6,"y":0.015},{"s":3,"x":34.65,"y":0.038},{"s":3,"x":34.7,"y":0.057},{"s":3,"x":34.75,"y":0.018},{"s":3,"x":34.8,"y":0.055},{"s":3,"x":34.85,"y":0.06},{"s":3,"x":34.9,"y":0.143},{"s":3,"x":34.95,"y":0.195},{"s":3,"x":35,"y":0.305},{"s":3,"x":35.05,"y":0.505},{"s":3,"x":35.1,"y":0.692},{"s":3,"x":35.14,"y":0.87},{"s":3,"x":35.17,"y":0.915},{"s":3,"x":35.2,"y":0.872},{"s":3,"x":35.25,"y":0.698},{"s":3,"x":35.3,"y":0.43},{"s":3,"x":35.35,"y":0.28},{"s":3,"x":35.4,"y":0.117},{"s":3,"x":35.45,"y":0.075},{"s":3,"x":35.5,"y":0.06},{"s":3,"x":35.55,"y":0.055},{"s":3,"x":35.6,"y":0.01},{"s":3,"x":35.65,"y":0.03},{"s":3,"x":35.7,"y":0.02},{"s":3,"x":35.75,"y":0.035},
{"s":4,"x":34.5,"y":-0.002},{"s":4,"x":34.55,"y":0.037},{"s":4,"x":34.6,"y":0.03},{"s":4,"x":34.65,"y":0.02},{"s":4,"x":34.7,"y":0.027},{"s":4,"x":34.75,"y":0.053},{"s":4,"x":34.8,"y":0.045},{"s":4,"x":34.85,"y":0.095},{"s":4,"x":34.9,"y":0.12},{"s":4,"x":34.95,"y":0.175},{"s":4,"x":35,"y":0.315},{"s":4,"x":35.05,"y":0.5},{"s":4,"x":35.1,"y":0.715},{"s":4,"x":35.14,"y":0.85},{"s":4,"x":35.17,"y":0.898},{"s":4,"x":35.2,"y":0.895},{"s":4,"x":35.25,"y":0.665},{"s":4,"x":35.3,"y":0.435},{"s":4,"x":35.35,"y":0.255},{"s":4,"x":35.4,"y":0.143},{"s":4,"x":35.45,"y":0.09},{"s":4,"x":35.5,"y":0.04},{"s":4,"x":35.55,"y":0.029},{"s":4,"x":35.6,"y":0.042},{"s":4,"x":35.65,"y":0.002},{"s":4,"x":35.7,"y":0.026},{"s":4,"x":35.75,"y":0.015},
{"s":5,"x":34.5,"y":0.04},{"s":5,"x":34.55,"y":0.007},{"s":5,"x":34.6,"y":0.05},{"s":5,"x":34.65,"y":0.028},{"s":5,"x":34.7,"y":0.05},{"s":5,"x":34.75,"y":0.028},{"s":5,"x":34.8,"y":0.065},{"s":5,"x":34.85,"y":0.068},{"s":5,"x":34.9,"y":0.135},{"s":5,"x":34.95,"y":0.182},{"s":5,"x":35,"y":0.322},{"s":5,"x":35.05,"y":0.49},{"s":5,"x":35.1,"y":0.725},{"s":5,"x":35.14,"y":0.88},{"s":5,"x":35.17,"y":0.905},{"s":5,"x":35.2,"y":0.9},{"s":5,"x":35.25,"y":0.668},{"s":5,"x":35.3,"y":0.445},{"s":5,"x":35.35,"y":0.25},{"s":5,"x":35.4,"y":0.155},{"s":5,"x":35.45,"y":0.065},{"s":5,"x":35.5,"y":0.062},{"s":5,"x":35.55,"y":0.029},{"s":5,"x":35.6,"y":0.048},{"s":5,"x":35.65,"y":0.01},{"s":5,"x":35.7,"y":0.038},{"s":5,"x":35.75,"y":0.01},
{"s":6,"x":34.5,"y":0.002},{"s":6,"x":34.55,"y":0.032},{"s":6,"x":34.6,"y":0.005},{"s":6,"x":34.65,"y":0.043},{"s":6,"x":34.7,"y":0.022},{"s":6,"x":34.75,"y":0.058},{"s":6,"x":34.8,"y":0.035},{"s":6,"x":34.85,"y":0.09},{"s":6,"x":34.9,"y":0.113},{"s":6,"x":34.95,"y":0.205},{"s":6,"x":35,"y":0.3},{"s":6,"x":35.05,"y":0.512},{"s":6,"x":35.1,"y":0.7},{"s":6,"x":35.14,"y":0.845},{"s":6,"x":35.17,"y":0.92},{"s":6,"x":35.2,"y":0.878},{"s":6,"x":35.25,"y":0.69},{"s":6,"x":35.3,"y":0.42},{"s":6,"x":35.35,"y":0.275},{"s":6,"x":35.4,"y":0.123},{"s":6,"x":35.45,"y":0.09},{"s":6,"x":35.5,"y":0.032},{"s":6,"x":35.55,"y":0.052},{"s":6,"x":35.6,"y":0.02},{"s":6,"x":35.65,"y":0.042},{"s":6,"x":35.7,"y":0.003},{"s":6,"x":35.75,"y":0.032}
],
"d":[
{"s":1,"x":36.25,"y":0.029},{"s":1,"x":36.3,"y":0.027},{"s":1,"x":36.35,"y":0.028},{"s":1,"x":36.4,"y":0.07},{"s":1,"x":36.45,"y":0.11},{"s":1,"x":36.5,"y":0.1},{"s":1,"x":36.55,"y":0.2},{"s":1,"x":36.6,"y":0.3},{"s":1,"x":36.65,"y":0.528},{"s":1,"x":36.7,"y":0.715},{"s":1,"x":36.74,"y":0.835},{"s":1,"x":36.78,"y":0.925},{"s":1,"x":36.82,"y":0.852},{"s":1,"x":36.86,"y":0.75},{"s":1,"x":36.9,"y":0.605},{"s":1,"x":36.95,"y":0.392},{"s":1,"x":37,"y":0.263},{"s":1,"x":37.05,"y":0.145},{"s":1,"x":37.1,"y":0.11},{"s":1,"x":37.15,"y":0.047},{"s":1,"x":37.2,"y":0.045},{"s":1,"x":37.25,"y":0.052},{"s":1,"x":37.3,"y":0.052},{"s":1,"x":37.35,"y":0.008},{"s":1,"x":37.4,"y":0.03},{"s":1,"x":37.45,"y":0.018},{"s":1,"x":37.5,"y":0.027},
{"s":2,"x":36.25,"y":-0.005},{"s":2,"x":36.3,"y":0.04},{"s":2,"x":36.35,"y":0.043},{"s":2,"x":36.4,"y":0.052},{"s":2,"x":36.45,"y":0.08},{"s":2,"x":36.5,"y":0.135},{"s":2,"x":36.55,"y":0.19},{"s":2,"x":36.6,"y":0.335},{"s":2,"x":36.65,"y":0.505},{"s":2,"x":36.7,"y":0.695},{"s":2,"x":36.74,"y":0.845},{"s":2,"x":36.78,"y":0.92},{"s":2,"x":36.82,"y":0.875},{"s":2,"x":36.86,"y":0.73},{"s":2,"x":36.9,"y":0.588},{"s":2,"x":36.95,"y":0.415},{"s":2,"x":37,"y":0.23},{"s":2,"x":37.05,"y":0.15},{"s":2,"x":37.1,"y":0.085},{"s":2,"x":37.15,"y":0.073},{"s":2,"x":37.2,"y":0.06},{"s":2,"x":37.25,"y":0.032},{"s":2,"x":37.3,"y":0.026},{"s":2,"x":37.35,"y":0.04},{"s":2,"x":37.4,"y":0.002},{"s":2,"x":37.45,"y":0.024},{"s":2,"x":37.5,"y":0.007},
{"s":3,"x":36.25,"y":0.037},{"s":3,"x":36.3,"y":0.01},{"s":3,"x":36.35,"y":0.063},{"s":3,"x":36.4,"y":0.06},{"s":3,"x":36.45,"y":0.103},{"s":3,"x":36.5,"y":0.11},{"s":3,"x":36.55,"y":0.21},{"s":3,"x":36.6,"y":0.308},{"s":3,"x":36.65,"y":0.52},{"s":3,"x":36.7,"y":0.702},{"s":3,"x":36.74,"y":0.852},{"s":3,"x":36.78,"y":0.91},{"s":3,"x":36.82,"y":0.885},{"s":3,"x":36.86,"y":0.76},{"s":3,"x":36.9,"y":0.595},{"s":3,"x":36.95,"y":0.42},{"s":3,"x":37,"y":0.233},{"s":3,"x":37.05,"y":0.16},{"s":3,"x":37.1,"y":0.08},{"s":3,"x":37.15,"y":0.085},{"s":3,"x":37.2,"y":0.035},{"s":3,"x":37.25,"y":0.054},{"s":3,"x":37.3,"y":0.026},{"s":3,"x":37.35,"y":0.046},{"s":3,"x":37.4,"y":0.01},{"s":3,"x":37.45,"y":0.036},{"s":3,"x":37.5,"y":0.002},
{"s":4,"x":36.25,"y":-0.001},{"s":4,"x":36.3,"y":0.035},{"s":4,"x":36.35,"y":0.018},{"s":4,"x":36.4,"y":0.075},{"s":4,"x":36.45,"y":0.075},{"s":4,"x":36.5,"y":0.14},{"s":4,"x":36.55,"y":0.18},{"s":4,"x":36.6,"y":0.33},{"s":4,"x":36.65,"y":0.498},{"s":4,"x":36.7,"y":0.725},{"s":4,"x":36.74,"y":0.83},{"s":4,"x":36.78,"y":0.932},{"s":4,"x":36.82,"y":0.86},{"s":4,"x":36.86,"y":0.725},{"s":4,"x":36.9,"y":0.61},{"s":4,"x":36.95,"y":0.398},{"s":4,"x":37,"y":0.255},{"s":4,"x":37.05,"y":0.135},{"s":4,"x":37.1,"y":0.105},{"s":4,"x":37.15,"y":0.053},{"s":4,"x":37.2,"y":0.06},{"s":4,"x":37.25,"y":0.024},{"s":4,"x":37.3,"y":0.049},{"s":4,"x":37.35,"y":0.018},{"s":4,"x":37.4,"y":0.042},{"s":4,"x":37.45,"y":0.001},{"s":4,"x":37.5,"y":0.024},
{"s":5,"x":36.25,"y":0.022},{"s":5,"x":36.3,"y":0.047},{"s":5,"x":36.35,"y":0.03},{"s":5,"x":36.4,"y":0.04},{"s":5,"x":36.45,"y":0.097},{"s":5,"x":36.5,"y":0.125},{"s":5,"x":36.55,"y":0.175},{"s":5,"x":36.6,"y":0.338},{"s":5,"x":36.65,"y":0.515},{"s":5,"x":36.7,"y":0.72},{"s":5,"x":36.74,"y":0.825},{"s":5,"x":36.78,"y":0.938},{"s":5,"x":36.82,"y":0.865},{"s":5,"x":36.86,"y":0.77},{"s":5,"x":36.9,"y":0.62},{"s":5,"x":36.95,"y":0.402},{"s":5,"x":37,"y":0.25},{"s":5,"x":37.05,"y":0.13},{"s":5,"x":37.1,"y":0.098},{"s":5,"x":37.15,"y":0.06},{"s":5,"x":37.2,"y":0.072},{"s":5,"x":37.25,"y":0.042},{"s":5,"x":37.3,"y":0.014},{"s":5,"x":37.35,"y":0.033},{"s":5,"x":37.4,"y":0.034},{"s":5,"x":37.45,"y":-0.004},{"s":5,"x":37.5,"y":0.032},
{"s":6,"x":36.25,"y":0.007},{"s":6,"x":36.3,"y":0.003},{"s":6,"x":36.35,"y":0.05},{"s":6,"x":36.4,"y":0.082},{"s":6,"x":36.45,"y":0.065},{"s":6,"x":36.5,"y":0.108},{"s":6,"x":36.55,"y":0.217},{"s":6,"x":36.6,"y":0.32},{"s":6,"x":36.65,"y":0.495},{"s":6,"x":36.7,"y":0.698},{"s":6,"x":36.74,"y":0.86},{"s":6,"x":36.78,"y":0.905},{"s":6,"x":36.82,"y":0.878},{"s":6,"x":36.86,"y":0.715},{"s":6,"x":36.9,"y":0.585},{"s":6,"x":36.95,"y":0.425},{"s":6,"x":37,"y":0.24},{"s":6,"x":37.05,"y":0.153},{"s":6,"x":37.1,"y":0.075},{"s":6,"x":37.15,"y":0.077},{"s":6,"x":37.2,"y":0.03},{"s":6,"x":37.25,"y":0.064},{"s":6,"x":37.3,"y":0.039},{"s":6,"x":37.35,"y":0.013},{"s":6,"x":37.4,"y":0.017},{"s":6,"x":37.45,"y":0.026},{"s":6,"x":37.5,"y":-0.01}
]
},
"vconcat":[
{"hconcat":[
{"width":388,"height":286,
"layer":[
{"data":{"name":"a"},"mark":{"type":"line","color":"#5c5c5c","strokeWidth":1},
"encoding":{
"x":{"field":"x","type":"quantitative","scale":{"domain":[28,38],"nice":false,"zero":false},
"axis":{"orient":"bottom","values":[28,28.5,29,29.5,30,30.5,31,31.5,32,32.5,33,33.5,34,34.5,35,35.5,36,36.5,37,37.5,38],"labelExpr":"datum.value % 2 == 0 ? format(datum.value, 'd') : ''","tickSize":{"condition":{"test":"datum.value % 2 == 0","value":6},"value":3},"labelFontSize":21,"labelPadding":7,"title":"2θ (kα Co)","titleFontSize":30,"titlePadding":3}},
"y":{"field":"y","type":"quantitative","scale":{"domain":[-0.071,3.306],"nice":false,"zero":false},
"axis":{"orient":"left","values":[0,1,2,3],"labels":false,"tickSize":5,"title":"Intensité (u.a.)","titleFontSize":30,"titlePadding":8}},
"detail":{"field":"s","type":"nominal"}}},
{"data":{"name":"ared"},"mark":{"type":"line","color":"#ff0000","strokeWidth":3},
"encoding":{
"x":{"field":"x","type":"quantitative","axis":{"orient":"top","values":[28,28.5,29,29.5,30,30.5,31,31.5,32,32.5,33,33.5,34,34.5,35,35.5,36,36.5,37,37.5,38],"labels":false,"tickSize":{"condition":{"test":"datum.value % 2 == 0","value":6},"value":3},"title":null}},
"y":{"field":"y","type":"quantitative","axis":{"orient":"right","values":[0,1,2,3],"labels":false,"tickSize":5,"title":null}}}},
{"data":{"name":"ablue"},"mark":{"type":"line","color":"#0000ff","strokeWidth":3},
"encoding":{"x":{"field":"x","type":"quantitative","axis":null},"y":{"field":"y","type":"quantitative","axis":null}}},
{"data":{"name":"alab"},"mark":{"type":"text","fontSize":13,"baseline":"middle"},
"encoding":{"x":{"field":"x","type":"quantitative","axis":null},"y":{"field":"y","type":"quantitative","axis":null},"text":{"field":"t"},
"color":{"field":"t","type":"nominal","scale":{"domain":["(220)","(311)","(222)"],"range":["#E3B04B","#E5318C","#2E9B3A"]},"legend":null}}},
{"data":{"values":[{"x":26.686,"y":3.26,"t":"(a)"}]},"mark":{"type":"text","font":"Liberation Serif","fontWeight":"bold","fontSize":23,"align":"left","baseline":"middle","color":"#111"},
"encoding":{"x":{"field":"x","type":"quantitative","axis":null},"y":{"field":"y","type":"quantitative","axis":null},"text":{"field":"t"}}}
]},
{"vconcat":[
{"width":331,"height":1,"view":{"stroke":null},"data":{"values":[]},"mark":"point"},
{"width":331,"height":267,
"layer":[
{"data":{"name":"b"},"mark":{"type":"line","color":"#F2A546","strokeWidth":2},
"encoding":{
"x":{"field":"x","type":"quantitative","scale":{"domain":[29.25,30.5],"nice":false,"zero":false},
"axis":{"orient":"bottom","values":[29.3,29.4,29.5,29.6,29.7,29.8,29.9,30,30.1,30.2,30.3,30.4,30.5],"labelExpr":"abs(datum.value*2 - round(datum.value*2)) < 0.001 ? replace(format(datum.value, '.1f'), '.', ',') : ''","tickSize":{"condition":{"test":"abs(datum.value*2 - round(datum.value*2)) < 0.001","value":6},"value":3},"labelFontSize":19,"labelPadding":6,"title":"2θ (kα Co)","titleFontSize":26,"titlePadding":13}},
"y":{"field":"y","type":"quantitative","scale":{"domain":[-0.123,1.246],"nice":false,"zero":false},
"axis":{"orient":"left","values":[0,0.25,0.5,0.75,1],"labels":false,"tickSize":{"condition":{"test":"abs(datum.value*2 - round(datum.value*2)) < 0.001","value":6},"value":3},"title":"Intensité relative (u.a)","titleFontSize":26,"titlePadding":16,"titleY":116}},
"detail":{"field":"s","type":"nominal"}}},
{"data":{"values":[{"x":29.273,"y":1.146,"t":"(220)"}]},"mark":{"type":"text","fontSize":19,"align":"left","baseline":"middle","color":"#1a1a1a"},
"encoding":{
"x":{"field":"x","type":"quantitative","axis":{"orient":"top","values":[29.3,29.4,29.5,29.6,29.7,29.8,29.9,30,30.1,30.2,30.3,30.4,30.5],"labels":false,"tickSize":{"condition":{"test":"abs(datum.value*2 - round(datum.value*2)) < 0.001","value":6},"value":3},"title":null}},
"y":{"field":"y","type":"quantitative","axis":{"orient":"right","values":[0,0.25,0.5,0.75,1],"labels":false,"tickSize":{"condition":{"test":"abs(datum.value*2 - round(datum.value*2)) < 0.001","value":6},"value":3},"title":null}},
"text":{"field":"t"}}},
{"data":{"values":[{"x":28.91,"y":1.32,"t":"(b)"}]},"mark":{"type":"text","font":"Liberation Serif","fontWeight":"bold","fontSize":23,"align":"left","baseline":"middle","color":"#111"},
"encoding":{"x":{"field":"x","type":"quantitative","axis":null},"y":{"field":"y","type":"quantitative","axis":null},"text":{"field":"t"}}}
]}
],"spacing":-9}
],"spacing":70},
{"hconcat":[
{"width":334,"height":267,
"layer":[
{"data":{"name":"c"},"mark":{"type":"line","color":"#EA3A9C","strokeWidth":2},
"encoding":{
"x":{"field":"x","type":"quantitative","scale":{"domain":[34.4925,35.75],"nice":false,"zero":false},
"axis":{"orient":"bottom","values":[34.5,34.6,34.7,34.8,34.9,35,35.1,35.2,35.3,35.4,35.5,35.6,35.7],"labelExpr":"abs(datum.value*2 - round(datum.value*2)) < 0.001 ? replace(format(datum.value, '.1f'), '.', ',') : ''","tickSize":{"condition":{"test":"abs(datum.value*2 - round(datum.value*2)) < 0.001","value":6},"value":3},"labelFontSize":19,"labelPadding":0,"title":"2θ (kα Co)","titleFontSize":25,"titlePadding":16}},
"y":{"field":"y","type":"quantitative","scale":{"domain":[-0.086,1.164],"nice":false,"zero":false},
"axis":{"orient":"left","values":[0,0.16667,0.33333,0.5,0.66667,0.83333,1],"labels":false,"tickSize":{"condition":{"test":"abs(datum.value*3 - round(datum.value*3)) < 0.01","value":6},"value":3},"title":"Intensité relative (u.a)","titleFontSize":26,"titlePadding":16,"titleY":119}},
"detail":{"field":"s","type":"nominal"}}},
{"data":{"values":[{"x":34.519,"y":1.075,"t":"(311)"}]},"mark":{"type":"text","fontSize":19,"align":"left","baseline":"middle","color":"#1a1a1a"},
"encoding":{
"x":{"field":"x","type":"quantitative","axis":{"orient":"top","values":[34.5,34.6,34.7,34.8,34.9,35,35.1,35.2,35.3,35.4,35.5,35.6,35.7],"labels":false,"tickSize":{"condition":{"test":"abs(datum.value*2 - round(datum.value*2)) < 0.001","value":6},"value":3},"title":null}},
"y":{"field":"y","type":"quantitative","axis":{"orient":"right","values":[0,0.16667,0.33333,0.5,0.66667,0.83333,1],"labels":false,"tickSize":{"condition":{"test":"abs(datum.value*3 - round(datum.value*3)) < 0.01","value":6},"value":3},"title":null}},
"text":{"field":"t"}}},
{"data":{"values":[{"x":34.3,"y":1.431,"t":"(c)"}]},"mark":{"type":"text","font":"Liberation Serif","fontWeight":"bold","fontSize":23,"align":"left","baseline":"middle","color":"#111"},
"encoding":{"x":{"field":"x","type":"quantitative","axis":null},"y":{"field":"y","type":"quantitative","axis":null},"text":{"field":"t"}}}
]},
{"width":332,"height":267,
"layer":[
{"data":{"name":"d"},"mark":{"type":"line","color":"#1E861E","strokeWidth":2},
"encoding":{
"x":{"field":"x","type":"quantitative","scale":{"domain":[36.25,37.5],"nice":false,"zero":false},
"axis":{"orient":"bottom","values":[36.3,36.4,36.5,36.6,36.7,36.8,36.9,37,37.1,37.2,37.3,37.4,37.5],"labelExpr":"abs(datum.value*2 - round(datum.value*2)) < 0.001 ? replace(format(datum.value, '.1f'), '.', ',') : ''","tickSize":{"condition":{"test":"abs(datum.value*2 - round(datum.value*2)) < 0.001","value":6},"value":3},"labelFontSize":19,"labelPadding":0,"title":"2θ (kα Co)","titleFontSize":25,"titlePadding":16}},
"y":{"field":"y","type":"quantitative","scale":{"domain":[-0.126,1.249],"nice":false,"zero":false},
"axis":{"orient":"left","values":[0,0.25,0.5,0.75,1],"labels":false,"tickSize":{"condition":{"test":"abs(datum.value*2 - round(datum.value*2)) < 0.001","value":6},"value":3},"title":"Intensité relative (u.a)","titleFontSize":26,"titlePadding":15,"titleY":119}},
"detail":{"field":"s","type":"nominal"}}},
{"data":{"values":[{"x":36.269,"y":1.138,"t":"(222)"}]},"mark":{"type":"text","fontSize":19,"align":"left","baseline":"middle","color":"#1a1a1a"},
"encoding":{
"x":{"field":"x","type":"quantitative","axis":{"orient":"top","values":[36.3,36.4,36.5,36.6,36.7,36.8,36.9,37,37.1,37.2,37.3,37.4,37.5],"labels":false,"tickSize":{"condition":{"test":"abs(datum.value*2 - round(datum.value*2)) < 0.001","value":6},"value":3},"title":null}},
"y":{"field":"y","type":"quantitative","axis":{"orient":"right","values":[0,0.25,0.5,0.75,1],"labels":false,"tickSize":{"condition":{"test":"abs(datum.value*2 - round(datum.value*2)) < 0.001","value":6},"value":3},"title":null}},
"text":{"field":"t"}}},
{"data":{"values":[{"x":35.91,"y":1.543,"t":"(d)"}]},"mark":{"type":"text","font":"Liberation Serif","fontWeight":"bold","fontSize":23,"align":"left","baseline":"middle","color":"#111"},
"encoding":{"x":{"field":"x","type":"quantitative","axis":null},"y":{"field":"y","type":"quantitative","axis":null},"text":{"field":"t"}}}
]}
],"spacing":128}
],
"spacing":-9,
"config":{
"font":"DejaVu Sans",
"view":{"stroke":"#333","strokeWidth":1},
"axis":{"domain":false,"grid":false,"tickColor":"#333","tickWidth":1,"labelColor":"#111","titleColor":"#111","titleFontWeight":"normal","labelFont":"DejaVu Sans","titleFont":"DejaVu Sans"}
}
}
